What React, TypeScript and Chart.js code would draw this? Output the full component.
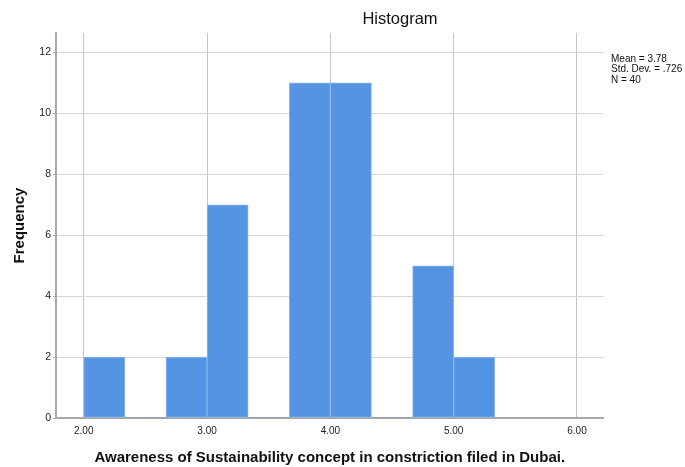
import React, { useEffect, useRef } from "react";
import { Chart, registerables } from "chart.js";

Chart.register(...registerables);

// Histogram bins (lower edges), bin width and counts
const binStarts = [2.0, 2.3333, 2.6667, 3.0, 3.3333, 3.6667, 4.0, 4.3333, 4.6667, 5.0];
const binWidth = 1 / 3;
const frequencies = [2, 0, 2, 7, 0, 11, 11, 0, 5, 2];

const xTickValues = [2, 3, 4, 5, 6];
const yTickValues = [0, 2, 4, 6, 8, 10, 12];

const chartTitle = "Histogram";
const xAxisTitle = "Awareness of Sustainability concept in constriction filed in Dubai.";
const yAxisTitle = "Frequency";
const statLines = ["Mean = 3.78", "Std. Dev. = .726", "N = 40"];

const FONT = '"Liberation Sans", Arial, sans-serif';

export default function App() {
  const canvasRef = useRef<HTMLCanvasElement | null>(null);

  useEffect(() => {
    if (!canvasRef.current) return;

    const textPlugin = {
      id: "spssTexts",
      afterDraw(chart: any) {
        const ctx = chart.ctx;
        ctx.save();
        ctx.fillStyle = "#111";
        ctx.textAlign = "center";
        ctx.textBaseline = "middle";
        ctx.font = `16.5px ${FONT}`;
        ctx.fillText(chartTitle, 400, 19);
        ctx.textAlign = "left";
        ctx.textBaseline = "alphabetic";
        ctx.font = `10px ${FONT}`;
        statLines.forEach((s, i) => ctx.fillText(s, 611, 61.5 + i * 10.5));
        ctx.restore();
      },
    };

    const chart = new Chart(canvasRef.current, {
      type: "bar",
      data: {
        datasets: [
          {
            data: binStarts.map((s, i) => ({ x: s + binWidth / 2, y: frequencies[i] })),
            backgroundColor: "#5594e2",
            borderColor: "#8cb6ec",
            borderWidth: (c: any) => (frequencies[c.dataIndex] === 0 ? 0 : 1),
            borderSkipped: false,
            barPercentage: 1,
            categoryPercentage: 1,
          },
        ],
      },
      options: {
        responsive: false,
        animation: false,
        devicePixelRatio: 1,
        layout: { padding: { top: 33, right: 81.5, left: 0, bottom: 0 } },
        plugins: {
          legend: { display: false },
          tooltip: { enabled: false },
          title: { display: false },
        },
        scales: {
          x: {
            type: "linear",
            min: 1.775,
            max: 6.215,
            offset: false,
            z: 1,
            afterBuildTicks: (scale: any) => {
              scale.ticks = xTickValues.map((v) => ({ value: v }));
            },
            afterFit: (scale: any) => {
              scale.height = 49;
            },
            grid: {
              offset: false,
              color: "#c6c6c6",
              lineWidth: 1,
              drawTicks: false,
            },
            border: { display: true, color: "#a8a8a8", width: 2 },
            ticks: {
              autoSkip: false,
              maxRotation: 0,
              padding: 7,
              color: "#222",
              font: { family: FONT, size: 10 },
              callback: (v: any) => Number(v).toFixed(2),
            },
            title: {
              display: true,
              text: xAxisTitle,
              color: "#111",
              font: { family: FONT, size: 15, weight: "bold" },
              padding: { top: 0, bottom: 0 },
            },
          },
          y: {
            type: "linear",
            min: 0,
            max: 12.64,
            afterBuildTicks: (scale: any) => {
              scale.ticks = yTickValues.map((v) => ({ value: v }));
            },
            afterFit: (scale: any) => {
              scale.width = 56;
            },
            grid: {
              color: "#d6d6d6",
              lineWidth: 1,
              drawTicks: true,
              tickLength: 3,
              tickColor: "#a8a8a8",
            },
            border: { display: true, color: "#a8a8a8", width: 2 },
            ticks: {
              autoSkip: false,
              padding: 2,
              color: "#222",
              font: { family: FONT, size: 10.5 },
            },
            title: {
              display: true,
              text: yAxisTitle,
              color: "#111",
              font: { family: FONT, size: 15, weight: "bold" },
              padding: { top: 11, bottom: 0 },
            },
          },
        },
      } as any,
      plugins: [textPlugin],
    });

    return () => chart.destroy();
  }, []);

  return (
    <div style={{ position: "fixed", left: 0, top: 0, width: 685, height: 467, background: "#fff" }}>
      <canvas ref={canvasRef} width={685} height={467} style={{ width: 685, height: 467 }} />
    </div>
  );
}
